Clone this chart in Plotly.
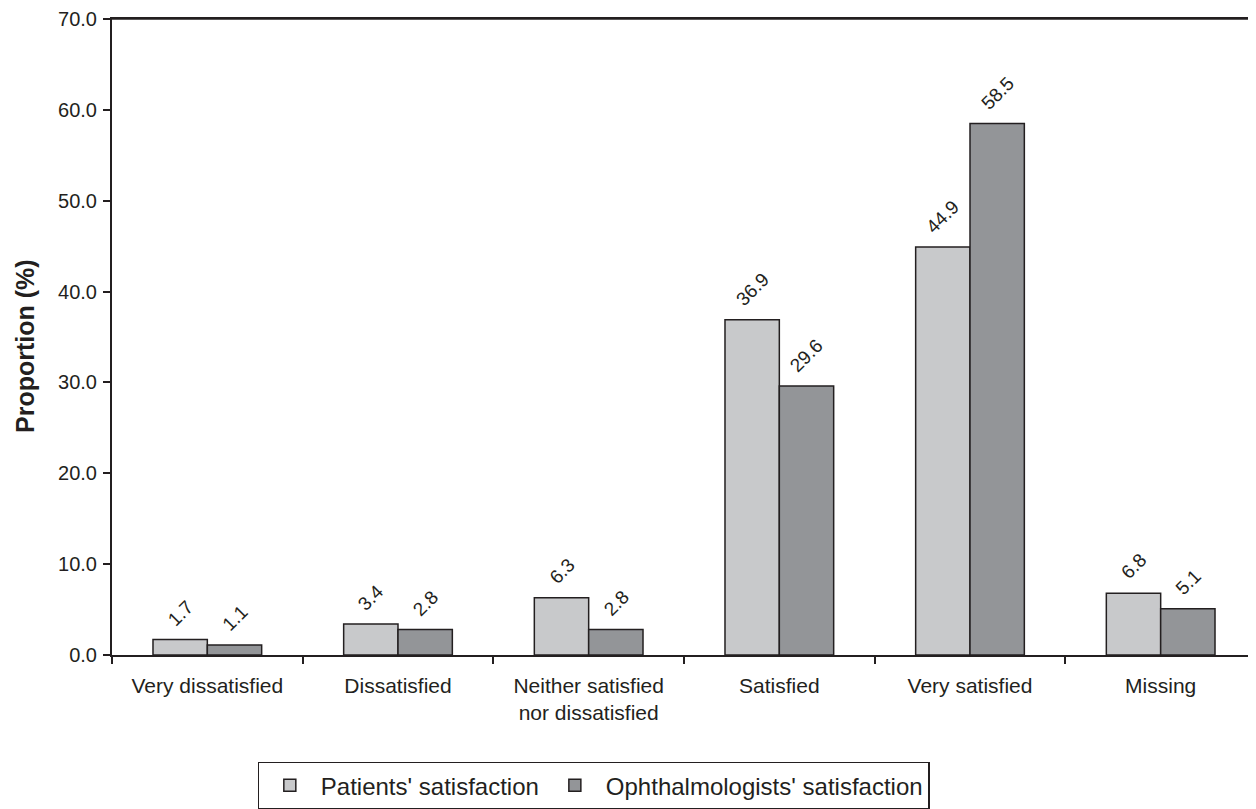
import plotly.graph_objects as go

categories = ["Very dissatisfied", "Dissatisfied", "Neither satisfied<br>nor dissatisfied",
              "Satisfied", "Very satisfied", "Missing"]
patients = [1.7, 3.4, 6.3, 36.9, 44.9, 6.8]
ophthalmologists = [1.1, 2.8, 2.8, 29.6, 58.5, 5.1]
series_names = ["Patients' satisfaction", "Ophthalmologists' satisfaction"]
y_ticks = [0, 10, 20, 30, 40, 50, 60, 70]
y_title = "Proportion (%)"

FONT = "Arial, 'Liberation Sans', sans-serif"
TXT = "#231f20"
COLORS = ["#c8c9cb", "#939598"]

# page body has an 8px margin, so the figure is sized to fit the viewport
W, H = 1248, 801
ML, MR, MT, MB = 104, 0, 9, 154
BARGAP = 0.43

fig = go.Figure()
for name, vals, col in zip(series_names, [patients, ophthalmologists], COLORS):
    fig.add_trace(go.Bar(
        x=categories, y=vals, name=name,
        marker=dict(color=col, line=dict(color=TXT, width=1.5)),
    ))

# value labels, rotated, above each bar
plot_w = W - ML - MR
bar_px = plot_w / len(categories) * (1 - BARGAP) / 2
for si, vals in enumerate([patients, ophthalmologists]):
    shift = (si - 0.5) * bar_px
    for cat, v in zip(categories, vals):
        fig.add_annotation(
            x=cat, y=v, text=f"{v:.1f}", showarrow=False,
            textangle=-45, xanchor="center", yanchor="bottom",
            xshift=shift, yshift=7,
            font=dict(size=19, color=TXT, family=FONT),
        )

# y-axis title
fig.add_annotation(
    xref="paper", yref="paper", x=-0.076, y=0.486, text=f"<b>{y_title}</b>",
    showarrow=False, textangle=-90, xanchor="center", yanchor="middle",
    font=dict(size=25, color=TXT, family=FONT),
)
# top frame line
fig.add_shape(type="line", xref="paper", yref="paper", x0=0, x1=1, y0=1, y1=1,
              line=dict(color=TXT, width=1.5))

fig.update_layout(
    width=W, height=H,
    margin=dict(l=ML, r=MR, t=MT, b=MB),
    paper_bgcolor="white", plot_bgcolor="white",
    font=dict(family=FONT, size=21, color=TXT),
    barmode="group", bargap=BARGAP, bargroupgap=0,
    showlegend=True,
    legend=dict(
        orientation="h", x=0.421, xanchor="center", y=-0.169, yanchor="top",
        bordercolor=TXT, borderwidth=1.2, font=dict(size=24, color=TXT, family=FONT),
        itemwidth=52, traceorder="normal",
    ),
)
fig.update_xaxes(
    showline=True, linecolor=TXT, linewidth=1.5, mirror=True,
    ticks="outside", tickson="boundaries", ticklen=7, tickcolor=TXT, tickwidth=1.5,
    tickfont=dict(size=21, color=TXT, family=FONT), showgrid=False,
    ticklabelstandoff=11,
)
fig.update_yaxes(
    range=[0, 70], tickvals=y_ticks, tickformat=".1f",
    showline=True, linecolor=TXT, linewidth=2, ticks="outside", ticklen=7,
    tickcolor=TXT, tickwidth=1.5, showgrid=False, zeroline=False,
    tickfont=dict(size=20, color=TXT, family=FONT), ticklabelstandoff=2,
    ticklabeloverflow="allow",
)

fig.write_html("out.html")
